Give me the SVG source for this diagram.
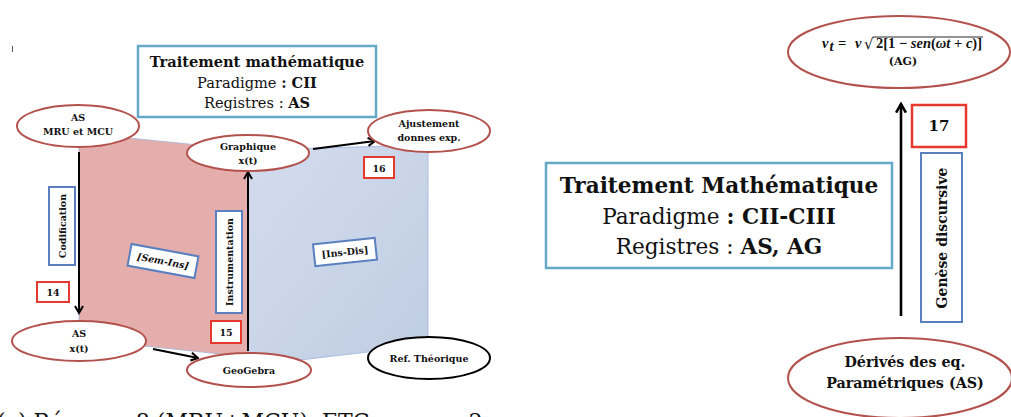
<svg xmlns="http://www.w3.org/2000/svg" width="1011" height="417" viewBox="0 0 1011 417">
<defs>
<linearGradient id="blueg" x1="0" y1="0" x2="1" y2="1">
<stop offset="0" stop-color="#d3dcee"/>
<stop offset="1" stop-color="#bfcde2"/>
</linearGradient>
<marker id="arr" viewBox="0 0 10 10" refX="8.5" refY="5" markerWidth="10" markerHeight="10" markerUnits="userSpaceOnUse" orient="auto">
<path d="M1.5,1 L8.5,5 L1.5,9" fill="none" stroke="#000" stroke-width="2"/>
</marker>
<marker id="arrB" viewBox="0 0 12 12" refX="10" refY="6" markerWidth="13" markerHeight="13" markerUnits="userSpaceOnUse" orient="auto">
<path d="M2,1.5 L10,6 L2,10.5" fill="none" stroke="#000" stroke-width="2.4"/>
</marker>
</defs>
<style>
text{font-family:"DejaVu Serif","Liberation Serif",serif;fill:#111}
.b{font-weight:bold}
.sm{font-size:9.5px;font-weight:bold;text-anchor:middle}
.m{font-family:"Liberation Serif",serif;font-weight:bold;font-size:14.5px}
.i{font-style:italic}
.node{fill:#fff;stroke:#b3524d;stroke-width:2}
.title{fill:#fff;stroke:#64aac6;stroke-width:2.5}
.lab{fill:#fff;stroke:#5b80c0;stroke-width:2}
.num{fill:#fff;stroke:#e5392e;stroke-width:2}
.conn{stroke:#000;stroke-width:2;fill:none;marker-end:url(#arr)}
</style>

<line x1="12.5" y1="46" x2="12.5" y2="52" stroke="#555" stroke-width="1"/>

<g id="pages">
<polygon points="79,133 248,150 248,357 79,339" fill="#e4aeac" stroke="#a3b4d8" stroke-width="0.8"/>
<polygon points="248,150 428,145 428,340 368,352 300,360 248,357" fill="url(#blueg)" stroke="#9fb3da" stroke-width="0.8"/>
</g>

<g id="title-left">
<rect class="title" x="138" y="46" width="238" height="71"/>
<text x="257" y="67" text-anchor="middle" font-size="14.6" class="b">Traitement mathématique</text>
<text x="257" y="88" text-anchor="middle" font-size="14.6">Paradigme <tspan class="b">: CII</tspan></text>
<text x="257" y="108" text-anchor="middle" font-size="14.6">Registres : <tspan class="b">AS</tspan></text>
</g>

<g id="connectors">
<line class="conn" x1="79" y1="152" x2="79" y2="313"/>
<line class="conn" x1="153" y1="349" x2="198" y2="358"/>
<line class="conn" x1="248" y1="351" x2="248" y2="172"/>
<line class="conn" x1="313" y1="149" x2="375" y2="141"/>
<line x1="901" y1="316" x2="901" y2="104" stroke="#000" stroke-width="2.6" fill="none" marker-end="url(#arrB)"/>
</g>

<g id="node-as-mru">
<ellipse class="node" cx="78" cy="126" rx="61" ry="21"/>
<text class="sm" x="78" y="121">AS</text>
<text class="sm" x="78" y="135">MRU et MCU</text>
</g>

<g id="node-graphique">
<ellipse class="node" cx="248" cy="153" rx="61" ry="18"/>
<text class="sm" x="248" y="150">Graphique</text>
<text class="sm" x="248" y="164">x(t)</text>
</g>

<g id="node-ajustement">
<ellipse class="node" cx="429" cy="131" rx="61" ry="21"/>
<text class="sm" x="429" y="127">Ajustement</text>
<text class="sm" x="429" y="141">donnes exp.</text>
</g>

<g id="node-as-xt">
<ellipse class="node" cx="79" cy="341" rx="67" ry="20"/>
<text class="sm" x="79" y="337">AS</text>
<text class="sm" x="79" y="352">x(t)</text>
</g>

<g id="node-geogebra">
<ellipse class="node" cx="249" cy="370" rx="62" ry="17"/>
<text class="sm" x="249" y="374">GeoGebra</text>
</g>

<g id="node-ref">
<ellipse cx="429" cy="358" rx="61" ry="21" fill="#fff" stroke="#000" stroke-width="2"/>
<text class="sm" x="429" y="362">Ref. Théorique</text>
</g>

<g id="label-codification">
<rect class="lab" x="49" y="187" width="26" height="78"/>
<text class="sm" transform="translate(65.5,226) rotate(-90)">Codification</text>
</g>

<g id="label-instrumentation">
<rect class="lab" x="216" y="211" width="26" height="102"/>
<text class="sm" transform="translate(232.5,262) rotate(-90)">Instrumentation</text>
</g>

<g id="label-sem-ins">
<g transform="translate(163,261) rotate(10.5)">
<rect class="lab" x="-34" y="-11" width="68" height="22"/>
<text class="sm" x="0" y="3.5" font-style="italic">[Sem-Ins]</text>
</g>
</g>

<g id="label-ins-dis">
<g transform="translate(345,252) rotate(-6)">
<rect class="lab" x="-31" y="-11" width="62" height="22"/>
<text class="sm" x="0" y="3.5">[Ins-Dis]</text>
</g>
</g>

<g id="num-14">
<rect class="num" x="37" y="282" width="32" height="20"/>
<text class="sm" x="53" y="296" font-size="10.5">14</text>
</g>
<g id="num-15">
<rect class="num" x="211" y="321" width="30" height="22"/>
<text class="sm" x="226" y="336" font-size="10.5">15</text>
</g>
<g id="num-16">
<rect class="num" x="364" y="157" width="30" height="21"/>
<text class="sm" x="379" y="172" font-size="10.5">16</text>
</g>

<text x="-3" y="429" font-size="22">(c) Réponse 8 (MRU+MCU), ETC, groupe 2</text>

<g id="node-formula">
<ellipse class="node" cx="899" cy="52" rx="111" ry="36"/>
<text class="m i" x="822" y="48">v</text>
<text class="m i" x="829.5" y="51" font-size="9.5">t</text>
<text class="m" x="838" y="48">=</text>
<text class="m i" x="855" y="48">v</text>
<text x="864" y="49" font-size="15" font-family="DejaVu Sans, sans-serif">√</text>
<text class="m" x="876" y="48">2[1 − <tspan class="i">sen</tspan>(<tspan class="i">ωt</tspan> + <tspan class="i">c</tspan>)]</text>
<line x1="873" y1="37" x2="983" y2="37" stroke="#111" stroke-width="0.9"/>
<text x="903" y="65" font-size="11" class="b" text-anchor="middle">(AG)</text>
</g>

<g id="num-17">
<rect x="912" y="105" width="54" height="42" fill="#fff" stroke="#e5392e" stroke-width="2.5"/>
<text x="939" y="131" font-size="15" class="b" text-anchor="middle">17</text>
</g>

<g id="label-genese">
<rect class="lab" x="921" y="153" width="41" height="169"/>
<text transform="translate(947,238) rotate(-90)" font-size="14" class="b" text-anchor="middle">Genèse discursive</text>
</g>

<g id="title-right">
<rect class="title" x="546" y="163" width="346" height="105"/>
<text x="719" y="193" text-anchor="middle" font-size="21.6" class="b">Traitement Mathématique</text>
<text x="719" y="224" text-anchor="middle" font-size="21.6">Paradigme <tspan class="b">: CII-CIII</tspan></text>
<text x="719" y="254" text-anchor="middle" font-size="21.6">Registres : <tspan class="b">AS, AG</tspan></text>
</g>

<g id="node-derives">
<ellipse class="node" cx="900" cy="378" rx="112" ry="40"/>
<text x="905" y="367" font-size="14.3" class="b" text-anchor="middle">Dérivés des eq.</text>
<text x="905" y="388" font-size="14.3" class="b" text-anchor="middle">Paramétriques (AS)</text>
</g>
</svg>
